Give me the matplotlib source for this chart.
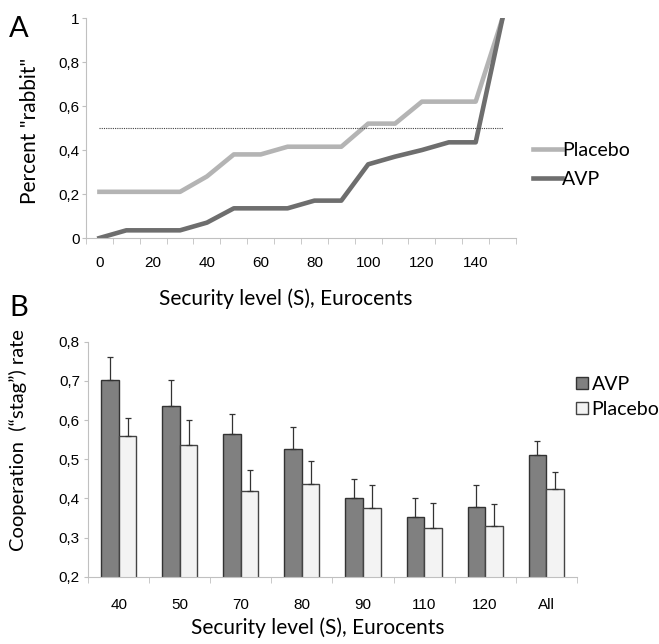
import matplotlib.pyplot as plt
import numpy as np

PLACEBO_LINE = '#b4b4b4'
AVP_LINE = '#6e6e6e'
AVP_BAR = '#808080'
PLACEBO_BAR = '#f3f3f3'
SPINE = '#c0c0c0'

# Panel A: percent "rabbit" by security level
security = [0, 10, 20, 30, 40, 50, 60, 70, 80, 90, 100, 110, 120, 130, 140, 150]
placebo_rabbit = [0.21, 0.21, 0.21, 0.21, 0.28, 0.38, 0.38, 0.415, 0.415, 0.415,
                  0.52, 0.52, 0.62, 0.62, 0.62, 1.0]
avp_rabbit = [0.0, 0.035, 0.035, 0.035, 0.07, 0.135, 0.135, 0.135, 0.17, 0.17,
              0.335, 0.37, 0.40, 0.435, 0.435, 1.0]
threshold = 0.5

# Panel B: cooperation rate
categories = ['40', '50', '70', '80', '90', '110', '120', 'All']
avp_coop = [0.702, 0.636, 0.565, 0.525, 0.40, 0.352, 0.378, 0.51]
avp_err = [0.058, 0.066, 0.05, 0.058, 0.05, 0.049, 0.057, 0.036]
placebo_coop = [0.558, 0.535, 0.419, 0.437, 0.375, 0.325, 0.33, 0.425]
placebo_err = [0.047, 0.065, 0.053, 0.059, 0.059, 0.064, 0.055, 0.042]

label_font = 'Lato'
tick_font = 'Liberation Sans'
LABEL_SIZE = 15
LEGEND_SIZE = 14
TICK_SIZE = 11

fig = plt.figure(figsize=(6.59, 6.44), dpi=100)

# ---------- A ----------
ax = fig.add_axes([0.1305, 0.6304, 0.6525, 0.3416])
ax.plot(security, placebo_rabbit, color=PLACEBO_LINE, lw=3.3, label='Placebo')
ax.plot(security, avp_rabbit, color=AVP_LINE, lw=3.3, label='AVP')
ax.plot([security[0], security[-1]], [threshold, threshold], color='#444444',
        lw=0.8, ls=(0, (1, 1)))
ax.set_xlim(-5, 155)
ax.set_ylim(0, 1)
ax.set_xticks(np.arange(-5, 160, 10), minor=True)
ax.set_xticks(np.arange(0, 141, 20))
ax.set_xticklabels([str(v) for v in range(0, 141, 20)], fontfamily=tick_font, fontsize=TICK_SIZE)
ax.tick_params(axis='x', which='major', length=0, pad=13)
ax.tick_params(axis='x', which='minor', length=4, color=SPINE)
ax.set_yticks([0, 0.2, 0.4, 0.6, 0.8, 1])
ax.set_yticklabels(['0', '0,2', '0,4', '0,6', '0,8', '1'], fontfamily=tick_font, fontsize=TICK_SIZE)
ax.tick_params(axis='y', length=3, color=SPINE, pad=1.5)
for s in ['top', 'right']:
    ax.spines[s].set_visible(False)
for s in ['left', 'bottom']:
    ax.spines[s].set_color(SPINE)
fig.text(0.434, 0.5357, 'Security level (S), Eurocents', fontfamily=label_font,
         fontsize=LABEL_SIZE, ha='center', va='center')
fig.text(0.0455, 0.7966, 'Percent "rabbit"', fontfamily=label_font,
         fontsize=LABEL_SIZE, ha='center', va='center', rotation=90)
fig.legend(*ax.get_legend_handles_labels(), loc='center left',
           bbox_to_anchor=(0.809, 0.744), frameon=False, borderpad=0, borderaxespad=0,
           handlelength=1.5, handletextpad=0.0, labelspacing=0.6,
           prop={'family': label_font, 'size': LEGEND_SIZE})
fig.text(0.014, 0.975, 'A', fontfamily=label_font, fontsize=21, va='top')

# ---------- B ----------
bx = fig.add_axes([0.134, 0.1045, 0.741, 0.3649])
x = np.arange(len(categories))
w = 0.287
bx.bar(x - w / 2, avp_coop, w, color=AVP_BAR, edgecolor='#333333',
       lw=1.0, label='AVP', yerr=[np.zeros(len(x)), avp_err], capsize=2,
       error_kw={'elinewidth': 0.9, 'ecolor': '#333333', 'capthick': 0.9})
bx.bar(x + w / 2, placebo_coop, w, color=PLACEBO_BAR, edgecolor='#444444',
       lw=1.0, label='Placebo', yerr=[np.zeros(len(x)), placebo_err], capsize=2,
       error_kw={'elinewidth': 0.9, 'ecolor': '#333333', 'capthick': 0.9})
bx.set_xlim(-0.5, 7.5)
bx.set_ylim(0.2, 0.8)
bx.set_xticks(np.arange(-0.5, 8, 1), minor=True)
bx.set_xticks(x)
bx.set_xticklabels(categories, fontfamily=tick_font, fontsize=TICK_SIZE)
bx.tick_params(axis='x', which='major', length=0, pad=15)
bx.tick_params(axis='x', which='minor', length=4, color=SPINE)
bx.set_yticks([0.2, 0.3, 0.4, 0.5, 0.6, 0.7, 0.8])
bx.set_yticklabels(['0,2', '0,3', '0,4', '0,5', '0,6', '0,7', '0,8'],
                   fontfamily=tick_font, fontsize=TICK_SIZE)
bx.tick_params(axis='y', length=3, color=SPINE, pad=3)
for s in ['top', 'right']:
    bx.spines[s].set_visible(False)
for s in ['left', 'bottom']:
    bx.spines[s].set_color(SPINE)
fig.text(0.482, 0.0248, 'Security level (S), Eurocents', fontfamily=label_font,
         fontsize=LABEL_SIZE, ha='center', va='center')
fig.text(0.0273, 0.3168, 'Cooperation  (\u201cstag\u201d) rate', fontfamily=label_font,
         fontsize=14.5, ha='center', va='center', rotation=90)
fig.legend(*bx.get_legend_handles_labels(), loc='center left',
           bbox_to_anchor=(0.874, 0.384), frameon=False, borderpad=0, borderaxespad=0,
           handlelength=0.6, handleheight=0.6, handletextpad=0.2, labelspacing=0.4,
           prop={'family': label_font, 'size': LEGEND_SIZE})
fig.text(0.014, 0.542, 'B', fontfamily=label_font, fontsize=21, va='top')

plt.savefig('out.png', dpi=100)
